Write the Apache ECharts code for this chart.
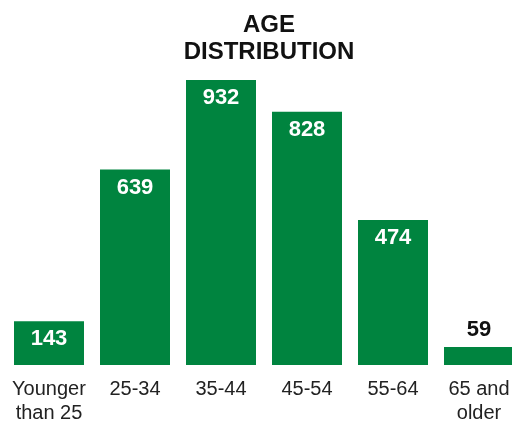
<!DOCTYPE html>
<html>
<head>
<meta charset="utf-8">
<script src="https://cdn.jsdelivr.net/npm/echarts@6/dist/echarts.min.js"></script>
<style>html,body{margin:0;padding:0;background:#fff;overflow:hidden;width:512px;height:425px;}#c{width:522px;height:425px;}</style>
</head>
<body>
<div id="c"></div>
<script>
const categories = ['Younger\nthan 25', '25-34', '35-44', '45-54', '55-64', '65 and\nolder'];
const values = [143, 639, 932, 828, 474, 59];
const titleText = 'AGE\nDISTRIBUTION';

const chart = echarts.init(document.getElementById('c'));
const FONT = '"Liberation Sans", Arial, Helvetica, sans-serif';
chart.setOption({
  animation: false,
  title: {
    text: titleText,
    left: 264,
    top: 7,
    textAlign: 'center',
    textStyle: { fontFamily: FONT, fontSize: 24, fontWeight: 'bold', color: '#111', lineHeight: 27 }
  },
  grid: { left: 6, right: 0, top: 80, bottom: 59, containLabel: false },
  xAxis: {
    type: 'category',
    data: categories,
    axisLine: { show: false },
    axisTick: { show: false },
    axisLabel: { fontFamily: FONT, fontSize: 20, color: '#222', lineHeight: 24, margin: 12, interval: 0 }
  },
  yAxis: { type: 'value', min: 0, max: 932, show: false, splitLine: { show: false } },
  series: [{
    type: 'bar',
    data: values.map((v, i) => {
      const small = v < 100;
      return {
        value: v,
        label: small ? { position: 'top', distance: 6, color: '#111' } : { position: 'insideTop', distance: 7, color: '#fff' }
      };
    }),
    barWidth: 70,
    itemStyle: { color: '#00843f' },
    label: { show: true, fontFamily: FONT, fontSize: 22, fontWeight: 'bold' }
  }]
});
</script>
</body>
</html>
